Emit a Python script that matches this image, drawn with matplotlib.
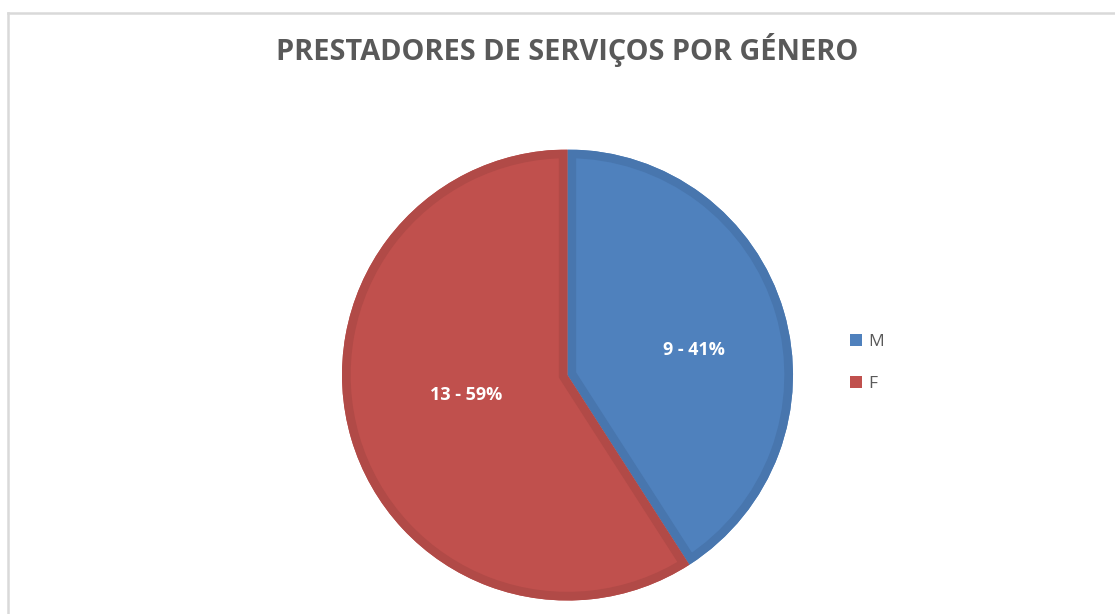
import matplotlib
matplotlib.use("Agg")
import matplotlib.pyplot as plt
from matplotlib.patches import Patch, Wedge
from matplotlib.lines import Line2D

categories = ["M", "F"]
values = [9, 13]
title = "PRESTADORES DE SERVIÇOS POR GÉNERO"

fill_colors = ["#4F81BD", "#C0504D"]
edge_colors = ["#4876AE", "#B14A47"]

W, H = 1115, 614
fig = plt.figure(figsize=(W / 100, H / 100), dpi=100)
fig.patch.set_facecolor("white")

# chart frame (light gray)
fig.add_artist(Line2D([7.5 / W, 1.0], [1 - 12.5 / H, 1 - 12.5 / H], color="#D9D9D9", lw=1.8))
fig.add_artist(Line2D([7.5 / W, 7.5 / W], [0, 1 - 12.5 / H], color="#D9D9D9", lw=1.8))

cx, cy, r = 567.5, 375, 225.5
ax = fig.add_axes([(cx - r) / W, (H - cy - r) / H, 2 * r / W, 2 * r / H])
ax.set_aspect("equal")

total = sum(values)

def fmt(p):
    n = int(round(p * total / 100.0))
    return f"{n} - {p:.0f}%"

wedges, texts, autotexts = ax.pie(
    values, colors=fill_colors, startangle=90, counterclock=False,
    autopct=fmt, pctdistance=0.53, radius=1.0,
    textprops=dict(color="white", fontsize=13, fontweight="bold", family="Open Sans"),
)
ax.set_xlim(-1, 1)
ax.set_ylim(-1, 1)
for w, ec in zip(wedges, edge_colors):
    w.set_edgecolor("none")
    # inner darker band: stroke of a copy clipped to the wedge itself
    band = Wedge(w.center, w.r, w.theta1, w.theta2, facecolor="none",
                 edgecolor=ec, linewidth=12.5, joinstyle="miter",
                 transform=ax.transData, zorder=w.get_zorder() + 0.1)
    ax.add_patch(band)
    clip = Wedge(w.center, w.r, w.theta1, w.theta2, transform=ax.transData)
    band.set_clip_path(clip)
    band.set_clip_on(True)

for t in autotexts:
    t.set_zorder(5)
# slight tweak of label positions to match reference
autotexts[0].set_position((0.56, 0.11))
autotexts[1].set_position((-0.45, -0.09))

fig.text(cx / W, 1 - 50 / H, title, ha="center", va="center", fontsize=20.8,
         fontweight="bold", color="#595959", family="Open Sans")

handles = [Patch(facecolor=c, edgecolor="none") for c in fill_colors]
leg = fig.legend(handles, categories, loc="upper left",
                 bbox_to_anchor=(834 / W, 1 - 318 / H), frameon=False,
                 handlelength=0.7, handleheight=0.7, handletextpad=0.4,
                 labelspacing=1.5, prop=dict(family="Open Sans", size=12.5))
for t in leg.get_texts():
    t.set_color("#595959")

fig.savefig("out.png", dpi=100, facecolor="white")
